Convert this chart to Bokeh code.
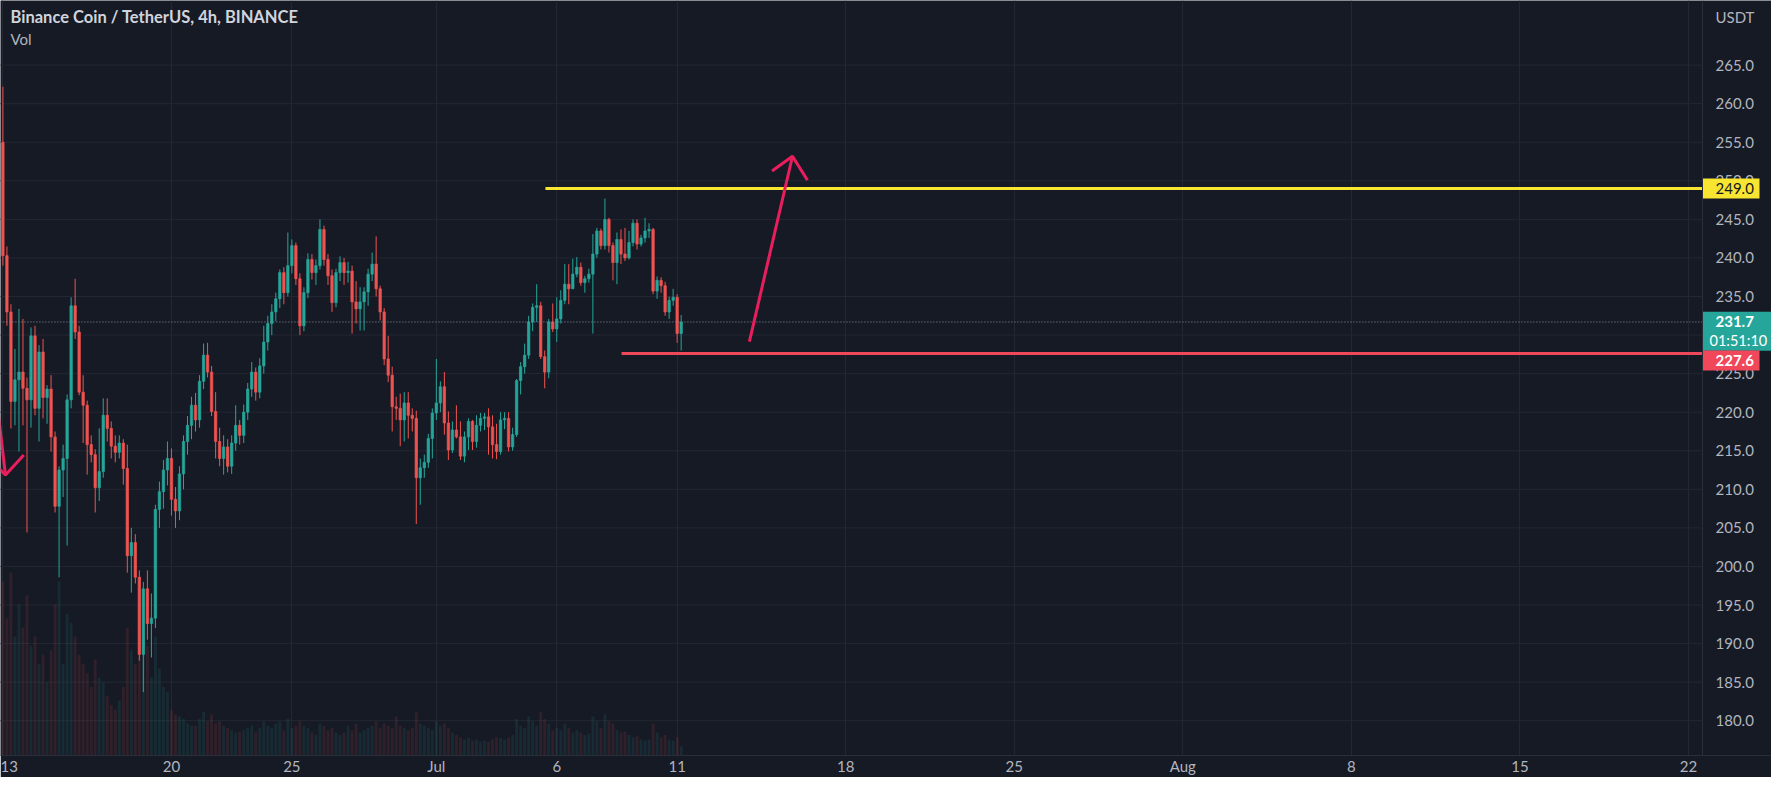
from bokeh.plotting import figure
from bokeh.models import Range1d, FixedTicker, Label, Span, ColumnDataSource
from bokeh.core.properties import value
from bokeh.embed import file_html
from bokeh.resources import INLINE

# ---------------- data ----------------
title_text = "Binance Coin / TetherUS, 4h, BINANCE"
pane_label = "Vol"
currency = "USDT"

first_open = 255.0
closes = [
    240.3, 233.0, 221.4, 224.2, 225.2, 223.1,
    221.6, 229.9, 220.5, 227.8, 221.9, 223.0,
    216.8, 207.8, 212.5, 214.0, 221.6, 233.8,
    230.4, 222.6, 220.9, 215.8, 214.5, 210.2,
    212.3, 219.6, 217.9, 215.6, 214.8, 216.0,
    212.7, 201.4, 203.1, 198.6, 188.6, 197.1,
    192.6, 193.3, 207.4, 209.7, 212.5, 214.0,
    208.7, 207.2, 212.0, 216.2, 218.3, 220.9,
    219.0, 224.0, 227.4, 225.2, 220.1, 216.2,
    214.0, 215.5, 213.0, 216.0, 218.3, 217.0,
    220.0, 223.0, 225.2, 222.6, 226.0, 229.1,
    231.5, 233.0, 234.7, 238.1, 235.5, 239.0,
    241.6, 237.3, 231.2, 235.5, 239.8, 238.1,
    239.0, 243.7, 239.8, 237.7, 234.2, 238.1,
    239.4, 238.1, 238.3, 234.3, 233.4, 234.3,
    235.6, 237.9, 239.2, 236.0, 233.0, 226.9,
    224.8, 220.7, 220.5, 219.0, 221.2, 219.6,
    219.2, 211.5, 212.8, 213.5, 216.6, 219.9,
    221.2, 223.3, 218.6, 215.1, 217.7, 216.8,
    214.3, 216.8, 218.8, 216.2, 218.3, 219.2,
    219.4, 218.1, 215.8, 214.9, 219.0, 219.2,
    215.5, 217.1, 224.1, 225.9, 227.4, 231.7,
    233.6, 233.8, 227.2, 225.2, 231.7, 230.8,
    232.1, 234.5, 236.6, 236.0, 237.9, 238.8,
    236.8, 237.3, 237.9, 240.5, 243.5, 241.6,
    245.0, 241.6, 239.4, 242.4, 240.5, 240.0,
    242.0, 244.5, 241.8, 242.6, 243.5, 243.7,
    235.7, 237.1, 236.4, 233.0, 234.5, 234.9,
    230.2, 231.7,
]
highs = [
    262.2, 241.5, 234.0, 228.2, 233.4, 232.1,
    224.5, 231.0, 231.2, 228.7, 229.5, 223.5,
    224.8, 217.5, 213.0, 215.8, 222.3, 234.9,
    237.3, 231.2, 224.8, 221.5, 217.0, 215.2,
    217.9, 221.8, 221.8, 218.8, 217.0, 217.0,
    216.5, 215.8, 205.0, 204.2, 199.5, 198.0,
    199.5, 196.5, 208.0, 211.0, 213.8, 216.2,
    215.3, 210.3, 213.0, 217.0, 219.5, 222.0,
    222.5, 224.8, 228.9, 229.0, 226.0, 222.6,
    218.0, 217.0, 216.5, 217.0, 220.9, 219.0,
    221.0, 223.8, 226.5, 225.8, 227.0, 231.2,
    232.5, 234.0, 235.5, 238.5, 238.8, 243.3,
    242.4, 242.0, 238.0, 236.2, 240.6, 240.5,
    239.8, 245.0, 244.2, 240.5, 238.5, 238.6,
    240.2, 240.0, 239.5, 239.0, 237.0, 236.2,
    236.2, 238.6, 240.7, 242.8, 236.4, 233.5,
    229.9, 225.9, 222.0, 222.4, 222.6, 222.6,
    220.5, 220.2, 214.0, 214.5, 217.2, 220.5,
    226.9, 224.0, 225.2, 220.1, 218.8, 220.9,
    218.8, 217.5, 219.2, 219.0, 219.6, 219.9,
    219.9, 220.5, 219.6, 218.5, 220.0, 220.0,
    220.0, 218.0, 224.3, 226.5, 228.9, 232.5,
    234.1, 236.6, 234.3, 228.0, 232.1, 234.1,
    234.9, 235.8, 239.2, 239.2, 239.9, 240.1,
    239.4, 237.7, 238.6, 243.1, 243.9, 243.8,
    247.7, 245.2, 242.0, 243.3, 243.7, 243.9,
    243.5, 245.0, 245.0, 243.0, 245.2, 244.5,
    243.9, 237.6, 237.5, 236.9, 235.0, 236.0,
    235.3, 232.6,
]
lows = [
    239.0, 231.2, 217.9, 218.3, 214.9, 218.3,
    204.4, 218.0, 219.6, 216.2, 219.2, 218.5,
    214.9, 207.0, 198.6, 209.0, 202.7, 220.5,
    229.5, 222.2, 216.0, 211.9, 213.5, 207.0,
    208.5, 211.5, 216.2, 214.0, 213.5, 214.0,
    210.6, 199.2, 196.6, 197.8, 187.8, 183.7,
    190.5, 188.2, 192.0, 205.0, 207.5, 210.5,
    206.6, 205.0, 206.0, 210.0, 214.5, 216.5,
    217.5, 218.0, 223.0, 224.5, 219.5, 214.0,
    213.0, 211.9, 212.2, 212.0, 215.0, 215.8,
    216.0, 219.0, 222.0, 221.5, 221.8, 225.0,
    228.0, 230.0, 231.8, 233.5, 234.0, 235.0,
    238.0, 236.5, 230.0, 230.5, 234.8, 237.2,
    236.5, 238.5, 239.0, 236.5, 233.0, 233.6,
    237.0, 236.5, 236.8, 230.2, 231.5, 230.6,
    230.6, 233.8, 237.0, 235.0, 231.9, 226.1,
    223.9, 217.5, 219.0, 215.6, 216.2, 216.6,
    217.5, 205.5, 208.0, 211.5, 212.8, 214.0,
    219.0, 220.0, 217.1, 213.8, 214.7, 216.6,
    213.8, 213.5, 215.1, 215.1, 215.4, 217.5,
    217.7, 214.5, 214.0, 213.9, 214.5, 217.8,
    214.9, 215.0, 216.8, 222.3, 225.0, 226.9,
    230.5, 231.7, 226.9, 223.1, 224.4, 230.4,
    229.1, 231.5, 234.0, 234.0, 236.4, 237.5,
    236.4, 235.5, 236.8, 230.2, 240.0, 241.1,
    241.1, 240.7, 237.1, 236.6, 239.2, 239.6,
    239.8, 241.5, 241.1, 241.5, 242.0, 242.6,
    235.3, 234.7, 235.5, 232.5, 232.1, 233.8,
    229.0, 228.0,
]
volumes = [
    380, 300, 400, 260, 330, 280,
    350, 240, 260, 200, 220, 160,
    230, 330, 380, 200, 310, 290,
    260, 220, 200, 180, 150, 210,
    170, 160, 130, 110, 100, 120,
    150, 280, 230, 200, 330, 360,
    240, 170, 260, 190, 150, 140,
    100, 90, 85, 80, 70, 65,
    65, 80, 95, 75, 90, 70,
    75, 65, 60, 55, 50, 52,
    55, 60, 65, 50, 60, 75,
    65, 60, 70, 75, 55, 80,
    60, 65, 75, 65, 60, 50,
    45, 70, 65, 55, 60, 50,
    45, 50, 65, 55, 70, 50,
    55, 60, 65, 75, 60, 70,
    65, 60, 85, 65, 60, 55,
    60, 95, 70, 65, 60, 55,
    75, 65, 70, 60, 50, 45,
    40, 35, 38, 32, 35, 30,
    32, 30, 35, 40, 38, 35,
    40, 45, 80, 65, 60, 85,
    75, 65, 95, 80, 70, 55,
    60, 55, 70, 60, 50, 55,
    50, 45, 48, 85, 75, 60,
    90, 75, 70, 55, 50, 52,
    45, 40, 42, 35, 32, 35,
    70, 50, 40, 45, 35, 32,
    40, 20,
]
# days since Jun 13 00:00 for the time axis
tick_days = [0, 7, 12, 18, 23, 28, 35, 42, 49, 56, 63, 70]
tick_labels = ["13", "20", "25", "Jul", "6", "11", "18", "25", "Aug", "8", "15", "22"]
price_ticks = [180, 185, 190, 195, 200, 205, 210, 215, 220, 225, 230, 235,
               240, 245, 250, 255, 260, 265]

last_price = 231.7
countdown = "01:51:10"
resistance = 249.0
resistance_from_day = 22.53
support = 227.6
support_from_day = 25.69
# drawn arrows (day, price)
up_arrow_shaft_x = [31.0, 32.79]
up_arrow_shaft_y = [229.16, 253.19]
up_arrow_head_x = [31.94, 32.79, 33.41]
up_arrow_head_y = [251.28, 253.19, 250.09]
down_arrow_shaft_x = [-0.515, 0.108]
down_arrow_shaft_y = [228.37, 211.86]
down_arrow_head_x = [-0.515, 0.108, 0.868]
down_arrow_head_y = [213.79, 211.86, 214.44]

# ---------------- styling / layout ----------------
BG = "#161a25"
GRID = "#232733"
BORDER = "#2a2e39"
TXT = "#b2b5be"
UP = "#26a69a"
DOWN = "#ef5350"
YELLOW = "#f7e531"
RED = "#f0475a"
ARROW = "#e91e5c"
FONT = "Lato"

W, H = 1771, 777
FRAME_H = 759          # plot area height (time scale below)
CHART_W = 1702         # candle area width (price scale to the right)
X0 = -0.0997           # day shown at the left edge
X_CHART_END = 70.58    # day shown at the price-scale edge
PXD = CHART_W / (X_CHART_END - X0)   # pixels per day


def day_at(px):
    return X0 + px / PXD


n = len(closes)
opens = [first_open] + closes[:-1]
bar_days = [i / 6 for i in range(n)]
colors = [UP if c >= o else DOWN for o, c in zip(opens, closes)]
src = ColumnDataSource(dict(
    x=bar_days, h=highs, l=lows,
    top=[max(o, c) for o, c in zip(opens, closes)],
    bottom=[min(o, c) for o, c in zip(opens, closes)],
    color=colors, vol=volumes,
))

p = figure(width=W, height=H,
           x_range=Range1d(X0, day_at(W)), y_range=Range1d(175.49, 273.38),
           output_backend="svg", toolbar_location=None, y_axis_location=None,
           background_fill_color=BG, border_fill_color=BG, outline_line_color=None,
           min_border_left=0, min_border_top=0, min_border_right=0,
           min_border_bottom=H - FRAME_H)
p.extra_y_ranges = {"vol": Range1d(0, 1650)}
for g in p.ygrid:
    g.grid_line_color = None
    g.visible = False

# horizontal price grid (only over the candle area)
p.segment(x0=X0 - 1, x1=X_CHART_END, y0=price_ticks, y1=price_ticks,
          line_color=GRID, line_width=1)
p.add_layout(Span(location=X_CHART_END, dimension="height", line_color=BORDER,
                  line_width=1))

# volume
p.vbar(x="x", top="vol", bottom=0, width=0.12, y_range_name="vol", source=src,
       fill_color="color", line_color=None, fill_alpha=0.12)

# candles
p.segment(x0="x", y0="l", x1="x", y1="h", line_color="color", line_width=1, source=src)
p.vbar(x="x", top="top", bottom="bottom", width=0.1, fill_color="color",
       line_color="color", line_width=0.7, source=src)

# last price dotted line
p.segment(x0=[X0 - 1], x1=[X_CHART_END], y0=[last_price], y1=[last_price],
          line_color="#8a94a0", line_dash="1 2", line_width=1)

# drawn levels
p.segment(x0=[resistance_from_day], y0=[resistance], x1=[X_CHART_END], y1=[resistance],
          line_color=YELLOW, line_width=3)
p.segment(x0=[support_from_day], y0=[support], x1=[X_CHART_END], y1=[support],
          line_color=RED, line_width=3)

# drawn arrows
p.line(up_arrow_shaft_x, up_arrow_shaft_y, line_color=ARROW, line_width=3)
p.line(up_arrow_head_x, up_arrow_head_y, line_color=ARROW, line_width=3)
p.line(down_arrow_shaft_x, down_arrow_shaft_y, line_color=ARROW, line_width=3)
p.line(down_arrow_head_x, down_arrow_head_y, line_color=ARROW, line_width=3)

# price scale labels
LABEL_X = day_at(1715)
p.text(x=[LABEL_X] * len(price_ticks), y=price_ticks,
       text=["%.1f" % v for v in price_ticks],
       text_font=value(FONT), text_font_size=value("15px"), text_color=TXT,
       text_baseline="middle", text_align="left")
p.text(x=[LABEL_X], y=[271.2], text=[currency],
       text_font=value(FONT), text_font_size=value("15px"), text_color=TXT,
       text_baseline="middle", text_align="left")

# price tags
p.rect(x=[day_at(CHART_W + 28.5)], y=[resistance], width=57, height=20,
       width_units="screen", height_units="screen", fill_color=YELLOW, line_color=None)
p.rect(x=[day_at(CHART_W + 34.5)], y=[230.5], width=69, height=39,
       width_units="screen", height_units="screen", fill_color=UP, line_color=None)
p.rect(x=[day_at(CHART_W + 28.5)], y=[226.7], width=57, height=20,
       width_units="screen", height_units="screen", fill_color=RED, line_color=None)
p.text(x=[LABEL_X], y=[resistance], text=["%.1f" % resistance],
       text_font=value(FONT), text_font_size=value("15px"), text_color="#131722",
       text_baseline="middle", text_align="left")
p.text(x=[LABEL_X], y=[last_price], text=["%.1f" % last_price],
       text_font=value(FONT), text_font_size=value("15px"), text_font_style="bold",
       text_color="#ffffff", text_baseline="middle", text_align="left")
p.text(x=[day_at(1709)], y=[229.27], text=[countdown],
       text_font=value(FONT), text_font_size=value("14.5px"), text_color="#ffffff",
       text_baseline="middle", text_align="left")
p.text(x=[LABEL_X], y=[226.7], text=["%.1f" % support],
       text_font=value(FONT), text_font_size=value("15px"), text_font_style="bold",
       text_color="#ffffff", text_baseline="middle", text_align="left")

# time axis
xa = p.xaxis[0]
xa.ticker = FixedTicker(ticks=tick_days)
xa.major_label_overrides = {d: lab for d, lab in zip(tick_days, tick_labels)}
xa.major_label_text_color = TXT
xa.major_label_text_font = FONT
xa.major_label_text_font_size = "15px"
xa.axis_line_color = BORDER
xa.major_tick_line_color = None
xa.minor_tick_line_color = None
xa.major_tick_out = 0
xa.major_tick_in = 0
xa.minor_tick_out = 0
xa.major_label_standoff = 1

p.xgrid.grid_line_color = GRID

# header texts (screen units: from frame left / frame bottom)
p.add_layout(Label(x=10, y=FRAME_H - 20, x_units="screen", y_units="screen",
                   text=title_text, text_font=FONT, text_font_size="16.5px",
                   text_font_style="bold", text_color="#d1d4dc", text_baseline="middle"))
p.add_layout(Label(x=10, y=FRAME_H - 42, x_units="screen", y_units="screen",
                   text=pane_label, text_font=FONT, text_font_size="15px",
                   text_color=TXT, text_baseline="middle"))

open("out.html", "w").write(file_html(p, INLINE))
